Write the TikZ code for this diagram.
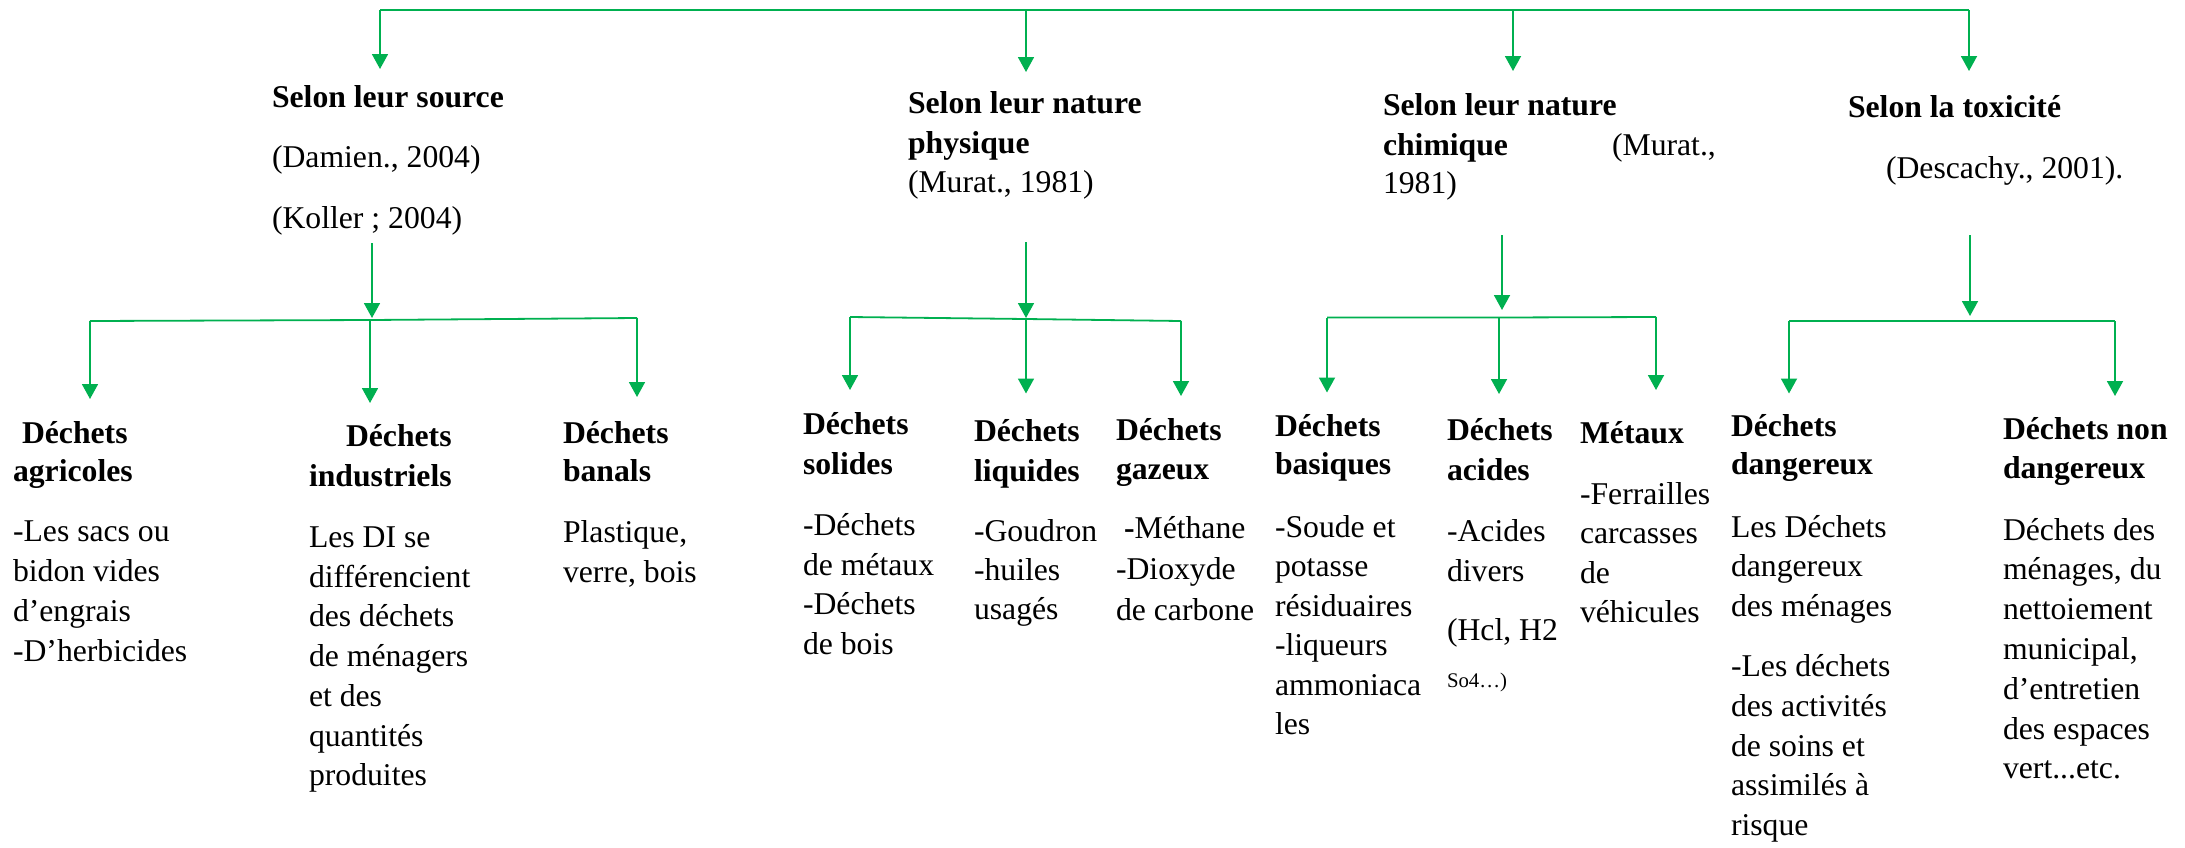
\documentclass[tikz,border=0pt]{standalone}
\usepackage{fontspec}
\setmainfont{Liberation Serif}
\usetikzlibrary{arrows.meta}
\definecolor{grn}{HTML}{00B050}
\begin{document}
\begin{tikzpicture}[x=0.5pt,y=-0.5pt,
  conn/.style={draw=grn, line width=0.9pt},
  arr/.style={conn, -{Triangle[width=8pt,length=7.5pt]}},
  txt/.style={anchor=base west, inner sep=0pt, outer sep=0pt, font=\fontsize{15.85}{19.8}\selectfont},
  hd/.style={txt, font=\fontsize{15.85}{19.8}\selectfont\bfseries}]
\useasboundingbox (0,0) rectangle (2185,847);

% ---------- top level ----------
\coordinate (t1) at (380,10);
\coordinate (t2) at (1026,10);
\coordinate (t3) at (1513,10);
\coordinate (t4) at (1969,10);
\coordinate (h1) at (380,69);
\coordinate (h2) at (1026,72);
\coordinate (h3) at (1513,71);
\coordinate (h4) at (1969,71);
\draw[conn] (t1) -- (t4);
\draw[arr] (t1) -- (h1);
\draw[arr] (t2) -- (h2);
\draw[arr] (t3) -- (h3);
\draw[arr] (t4) -- (h4);

% ---------- headers ----------
\node[hd]  (src)  at (272,107) {Selon leur source};
\node[txt] (srcA) at (272,167) {(Damien., 2004)};
\node[txt] (srcB) at (272,228) {(Koller ; 2004)};

\node[hd]  (phys)  at (908,113) {Selon leur nature};
\node[hd]  (physB) at (908,153) {physique};
\node[txt] (physR) at (908,192) {(Murat., 1981)};

\node[hd]  (chem)  at (1383,115) {Selon leur nature};
\node[hd]  (chemB) at (1383,155) {chimique};
\node[txt] (chemR) at (1612,155) {(Murat.,};
\node[txt] (chemS) at (1383,193) {1981)};

\node[hd]  (tox)  at (1848,117) {Selon la toxicité};
\node[txt] (toxR) at (1886,178) {(Descachy., 2001).};

% ---------- second level connectors ----------
\coordinate (s1a) at (372,243);  \coordinate (s1b) at (372,318);
\coordinate (s2a) at (1026,242); \coordinate (s2b) at (1026,318);
\coordinate (s3a) at (1502,235); \coordinate (s3b) at (1502,310);
\coordinate (s4a) at (1970,235); \coordinate (s4b) at (1970,316);
\draw[arr] (s1a) -- (s1b);
\draw[arr] (s2a) -- (s2b);
\draw[arr] (s3a) -- (s3b);
\draw[arr] (s4a) -- (s4b);

% source bar
\coordinate (b1l) at (90,321);  \coordinate (b1m) at (370,320); \coordinate (b1r) at (637,318);
\draw[conn] (b1l) -- (b1m) -- (b1r);
\coordinate (e11) at (90,399); \coordinate (e12) at (370,403); \coordinate (e13) at (637,397);
\draw[arr] (b1l) -- (e11);
\draw[arr] (b1m) -- (e12);
\draw[arr] (b1r) -- (e13);

% physical bar
\coordinate (b2l) at (850,317); \coordinate (b2m) at (1026,319); \coordinate (b2r) at (1181,321);
\draw[conn] (b2l) -- (b2m) -- (b2r);
\coordinate (e21) at (850,390); \coordinate (e22) at (1026,393.5); \coordinate (e23) at (1181,396);
\draw[arr] (b2l) -- (e21);
\draw[arr] (b2m) -- (e22);
\draw[arr] (b2r) -- (e23);

% chemical bar
\coordinate (b3l) at (1327,317.5); \coordinate (b3m) at (1499,317.5); \coordinate (b3r) at (1656,317);
\draw[conn] (b3l) -- (b3m) -- (b3r);
\coordinate (e31) at (1327,392.5); \coordinate (e32) at (1499,394); \coordinate (e33) at (1656,390);
\draw[arr] (b3l) -- (e31);
\draw[arr] (b3m) -- (e32);
\draw[arr] (b3r) -- (e33);

% toxicity bar
\coordinate (b4l) at (1789,321); \coordinate (b4r) at (2115,321);
\draw[conn] (b4l) -- (b4r);
\coordinate (e41) at (1789,393.5); \coordinate (e42) at (2115,396);
\draw[arr] (b4l) -- (e41);
\draw[arr] (b4r) -- (e42);

% ---------- leaves ----------
\node[hd] (agr) at (13,443) {\vtop{\baselineskip=19pt\hbox{\hspace{4.5pt}Déchets}\hbox{agricoles}}};
\node[txt] (agrT) at (13,541) {\vtop{\baselineskip=20pt\hbox{-Les sacs ou}\hbox{bidon vides}\hbox{d’engrais}\hbox{-D’herbicides}}};

\node[hd] (ind) at (309,446.5) {\vtop{\baselineskip=20pt\hbox{\hspace{18.5pt}Déchets}\hbox{industriels}}};
\node[txt] (indT) at (309,547.5) {\vtop{\baselineskip=19.85pt\hbox{Les DI se}\hbox{différencient}\hbox{des déchets}\hbox{de ménagers}\hbox{et des}\hbox{quantités}\hbox{produites}}};

\node[hd] (ban) at (563,443) {\vtop{\baselineskip=19pt\hbox{Déchets}\hbox{banals}}};
\node[txt] (banT) at (563,542.5) {\vtop{\baselineskip=19.8pt\hbox{Plastique,}\hbox{verre, bois}}};

\node[hd] (sol) at (803,434) {\vtop{\baselineskip=20pt\hbox{Déchets}\hbox{solides}}};
\node[txt] (solT) at (803,535.5) {\vtop{\baselineskip=19.75pt\hbox{-Déchets}\hbox{de métaux}\hbox{-Déchets}\hbox{de bois}}};

\node[hd] (liq) at (974,441) {\vtop{\baselineskip=20pt\hbox{Déchets}\hbox{liquides}}};
\node[txt] (liqT) at (974,541) {\vtop{\baselineskip=19.6pt\hbox{-Goudron}\hbox{-huiles}\hbox{usagés}}};

\node[hd] (gaz) at (1116,440) {\vtop{\baselineskip=19.5pt\hbox{Déchets}\hbox{gazeux}}};
\node[txt] (gazT) at (1116,538) {\vtop{\baselineskip=20.5pt\hbox{\hspace{4pt}\textbf{-}Méthane}\hbox{-Dioxyde}\hbox{de carbone}}};

\node[hd] (bas) at (1275,436) {\vtop{\baselineskip=19.4pt\hbox{Déchets}\hbox{basiques}}};
\node[txt] (basT) at (1275,537) {\vtop{\baselineskip=19.75pt\hbox{-Soude et}\hbox{potasse}\hbox{résiduaires}\hbox{-liqueurs}\hbox{ammoniaca}\hbox{les}}};

\node[hd] (aci) at (1447,440) {\vtop{\baselineskip=20pt\hbox{Déchets}\hbox{acides}}};
\node[txt] (aciT) at (1447,541) {\vtop{\baselineskip=20pt\hbox{-Acides}\hbox{divers}\vskip9.5pt\hbox{(Hcl, H2}\vskip3.5pt\hbox{\fontsize{10.4}{12}\selectfont So4…)}}};

\node[hd] (met) at (1580,443) {Métaux};
\node[txt] (metT) at (1580,504) {\vtop{\baselineskip=19.8pt\hbox{-Ferrailles}\hbox{carcasses}\hbox{de}\hbox{véhicules}}};

\node[hd] (dan) at (1731,436) {\vtop{\baselineskip=19.4pt\hbox{Déchets}\hbox{dangereux}}};
\node[txt] (danT) at (1731,537) {\vtop{\baselineskip=19.8pt\hbox{Les Déchets}\hbox{dangereux}\hbox{des ménages}\vskip10.5pt\hbox{-Les déchets}\hbox{des activités}\hbox{de soins et}\hbox{assimilés à}\hbox{risque}}};

\node[hd] (ndan) at (2003,439.5) {\vtop{\baselineskip=19.4pt\hbox{Déchets non}\hbox{dangereux}}};
\node[txt] (ndanT) at (2003,540) {\vtop{\baselineskip=19.9pt\hbox{Déchets des}\hbox{ménages, du}\hbox{nettoiement}\hbox{municipal,}\hbox{d’entretien}\hbox{des espaces}\hbox{vert...etc.}}};
\end{tikzpicture}
\end{document}
